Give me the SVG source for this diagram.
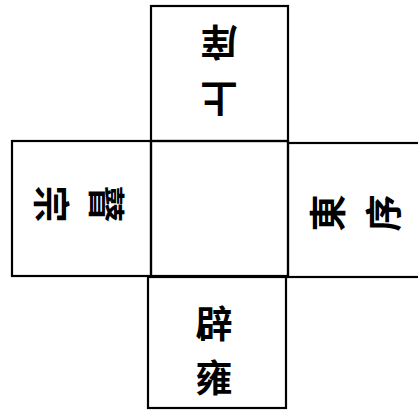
<svg xmlns="http://www.w3.org/2000/svg" width="418" height="414" viewBox="0 0 418 414">
<style>
.box{fill:none;stroke:#000;stroke-width:2.2}
.t{font-family:"Noto Sans CJK TC","Noto Sans CJK SC",sans-serif;font-size:37px;font-weight:bold;fill:#000;text-anchor:middle;dominant-baseline:central}
</style>
<rect width="418" height="414" fill="#fff"/>
<g id="top">
<rect class="box" x="151" y="6" width="137" height="135"/>
<text class="t" transform="translate(219,44) rotate(180)">庠</text>
<text class="t" transform="translate(219,100) rotate(180)">上</text>
</g>
<g id="left">
<rect class="box" x="12" y="141" width="139" height="135"/>
<text class="t" transform="translate(108,204) rotate(90)">瞽</text>
<text class="t" transform="translate(53,204) rotate(90)">宗</text>
</g>
<g id="center">
<rect class="box" x="151" y="141" width="137" height="135"/>
</g>
<g id="right">
<rect class="box" x="288" y="143" width="132" height="134"/>
<text class="t" transform="translate(326,213) rotate(-90)">東</text>
<text class="t" transform="translate(382,213) rotate(-90)">序</text>
</g>
<g id="bottom">
<rect class="box" x="148" y="277" width="138" height="131"/>
<text class="t" x="214" y="322">辟</text>
<text class="t" x="214" y="376">雍</text>
</g>
<g id="connectors"></g>
</svg>
